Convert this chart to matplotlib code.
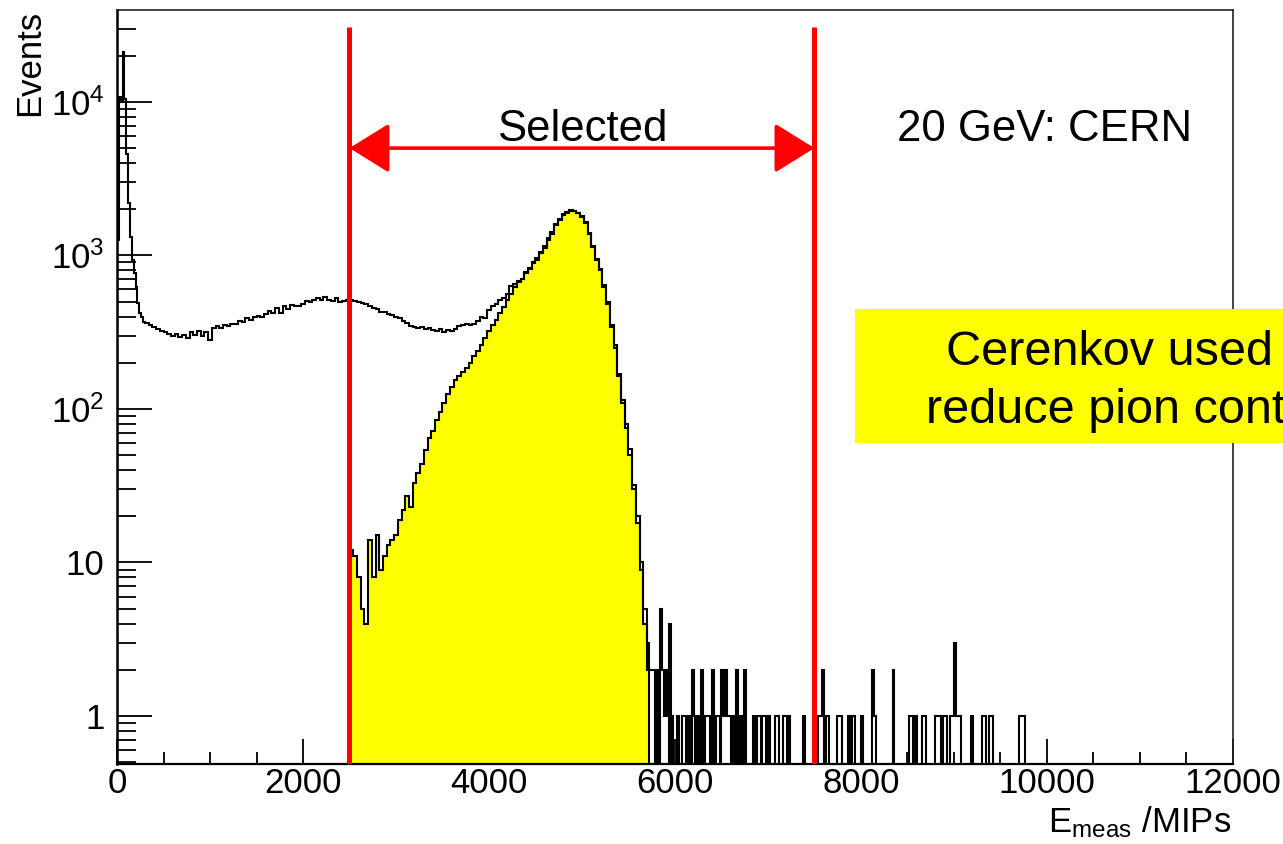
import numpy as np
import matplotlib
matplotlib.use("Agg")
import matplotlib.pyplot as plt
from matplotlib.patches import FancyArrowPatch, Rectangle
from matplotlib.ticker import MultipleLocator, LogLocator, NullFormatter, FuncFormatter

plt.rcParams["font.family"] = ["Liberation Sans", "DejaVu Sans"]
plt.rcParams["mathtext.fontset"] = "custom"
plt.rcParams["mathtext.rm"] = "Liberation Sans"
plt.rcParams["mathtext.it"] = "Liberation Sans:italic"
plt.rcParams["mathtext.bf"] = "Liberation Sans:bold"

# ---- data ----
# pedestal / MIP peak, 20 MIP bins from 0
peak_start, peak_width = 0, 20
all_peak = [1260, 10700, 10000, 21000, 10400, 4600, 2200, 1320, 930, 770,
            620, 490, 420, 400, 370]

# main body, 40 MIP bins from 300 to 5700 (all events)
main_start, main_width = 300, 40
all_main = [
    365, 350, 340, 330, 320, 315, 310, 300, 310, 295,        # 300 - 660
    305, 290, 315, 305, 320, 300, 315, 280, 335, 345,        # 700 - 1060
    335, 350, 345, 360, 355, 375, 370, 390, 380, 395,        # 1100 - 1460
    405, 395, 415, 435, 420, 455, 420, 465, 450, 475,        # 1500 - 1860
    465, 470, 485, 505, 495, 515, 525, 510, 540, 515,        # 1900 - 2260
    505, 525, 500, 505, 510,                                 # 2300 - 2460
    515, 505, 500, 490, 480, 465, 455, 445, 430, 425,        # 2500 - 2860
    415, 410, 400, 390, 375, 365, 345, 340, 335, 340,        # 2900 - 3260
    330, 335, 325, 320, 330, 315, 325, 320, 330, 345,        # 3300 - 3660
    350, 355, 350, 360, 375, 395, 390, 440, 470, 480,        # 3700 - 4060
    510, 530, 560, 630, 650, 680, 700, 780, 830, 900,        # 4100 - 4460
    960, 1060, 1150, 1300, 1420, 1600, 1720, 1850, 1920, 1980,  # 4500 - 4860
    1960, 1900, 1800, 1650, 1400, 1150, 950, 820, 640, 500,  # 4900 - 5260
    350, 260, 170, 115, 80, 55, 32, 20, 10, 5,               # 5300 - 5660
]

# Cerenkov-selected events, 40 MIP bins from 2500 to 5700
sel_start = 2500
sel_main = [
    12, 11, 8, 5, 4, 14, 8, 15, 9, 11,                       # 2500 - 2860
    13, 14, 15, 19, 22, 27, 23, 33, 38, 44,                  # 2900 - 3260
    54, 65, 72, 85, 95, 110, 125, 140, 155, 165,             # 3300 - 3660
    175, 185, 200, 220, 240, 260, 290, 320, 350, 380,        # 3700 - 4060
    420, 460, 510, 560, 620, 670, 700, 770, 820, 890,        # 4100 - 4460
    940, 1040, 1120, 1260, 1380, 1580, 1700, 1830, 1900, 1960,  # 4500 - 4860
    1940, 1880, 1780, 1620, 1380, 1130, 930, 800, 620, 480,  # 4900 - 5260
    340, 250, 165, 110, 75, 50, 30, 18, 9, 4,                # 5300 - 5660
]

# sparse tail, 20 MIP bins from 5700 to 9800 (non-empty bins only)
tail_start, tail_end, tail_width = 5700, 9800, 20
all_tail_bins = [5700, 5720, 5740, 5760, 5780, 5800, 5840, 5860, 5880, 5900,
                 5920, 5940, 5960, 6020, 6080, 6100, 6140, 6180, 6200, 6240,
                 6280, 6320, 6340, 6360, 6400, 6440, 6460, 6500, 6520, 6540,
                 6560, 6580, 6620, 6660, 6700, 6740, 6840, 6880, 6900, 6940,
                 6960, 7000, 7080, 7100, 7160, 7180, 7220, 7380, 7540, 7560,
                 7580, 7620, 7640, 7740, 7760, 7780, 7860, 7900, 7920, 8000,
                 8120, 8140, 8340, 8520, 8540, 8580, 8660, 8680, 8800, 8820,
                 8840, 8880, 8900, 8960, 8980, 9000, 9020, 9040, 9060, 9180,
                 9300, 9320, 9380, 9400, 9700, 9720, 9740]
all_tail_counts = [3, 2, 2, 2, 1, 2, 5, 2, 1, 2,
                   1, 4, 1, 1, 1, 1, 1, 2, 1, 1,
                   2, 1, 1, 1, 2, 1, 1, 2, 1, 2,
                   1, 1, 1, 2, 1, 2, 1, 1, 1, 1,
                   1, 1, 1, 1, 1, 1, 1, 1, 1, 1,
                   2, 1, 1, 1, 1, 1, 1, 1, 1, 1,
                   2, 1, 2, 1, 1, 1, 1, 1, 1, 1,
                   1, 1, 1, 1, 1, 3, 1, 1, 1, 1,
                   1, 1, 1, 1, 1, 1, 1]
sel_tail_bins = [5700, 5780, 5940, 6280]
sel_tail_counts = [2, 1, 1, 1]

cut_low, cut_high = 2500, 7500
cut_line_top = 30800
arrow_level = 5000
beam_label = "20 GeV: CERN"

# ---- build histograms ----
n_tail = (tail_end - tail_start) // tail_width


def tail_hist(bins, counts):
    vals = np.zeros(n_tail)
    idx = (np.array(bins) - tail_start) // tail_width
    vals[idx] = counts
    return vals


edges_peak = peak_start + peak_width * np.arange(len(all_peak) + 1)
edges_main = main_start + main_width * np.arange(len(all_main) + 1)
edges_tail = tail_start + tail_width * np.arange(n_tail + 1)
edges = np.concatenate([edges_peak, edges_main[1:], edges_tail[1:]])

n_pre_sel = (sel_start - main_start) // main_width
all_vals = np.concatenate([all_peak, all_main, tail_hist(all_tail_bins, all_tail_counts)])
sel_vals = np.concatenate([np.zeros(len(all_peak) + n_pre_sel), sel_main,
                           tail_hist(sel_tail_bins, sel_tail_counts)])

floor = 1e-3   # empty bins drop below the axis, like ROOT
all_vals = np.where(all_vals > 0, all_vals, floor)
sel_vals = np.where(sel_vals > 0, sel_vals, floor)

# ---- figure ----
fig = plt.figure(figsize=(12.83, 8.44), dpi=100)
ax = fig.add_axes([0.0912, 0.0948, 0.8698, 0.8934])
ax.set_yscale("log")
ax.set_xlim(0, 12000)
ax.set_ylim(0.487, 39700)

ax.stairs(sel_vals, edges, fill=True, baseline=floor, color="#ffff00", zorder=2)
ax.stairs(all_vals, edges, baseline=floor, color="black", lw=1.5, zorder=3)
ax.stairs(sel_vals, edges, baseline=floor, color="black", lw=1.5, zorder=3)

# selection window
ax.vlines([cut_low, cut_high], 0.487, cut_line_top, color="#ff0000", lw=3.6, zorder=5)
arrow = FancyArrowPatch((cut_low, arrow_level), (cut_high, arrow_level),
                        arrowstyle="<|-|>,head_length=25,head_width=15.5",
                        mutation_scale=1, shrinkA=0, shrinkB=0,
                        color="#ff0000", lw=2.6, zorder=5)
ax.add_patch(arrow)
ax.text((cut_low + cut_high) / 2, 5570, "Selected", ha="center", va="baseline",
        fontsize=31.5, zorder=6)
ax.text(8390, 5570, beam_label, ha="left", va="baseline", fontsize=31.5, zorder=6)

# axes styling (ROOT look)
ax.xaxis.set_major_locator(MultipleLocator(2000))
ax.xaxis.set_minor_locator(MultipleLocator(500))
ax.yaxis.set_major_locator(LogLocator(base=10, numticks=12))
ax.yaxis.set_minor_locator(LogLocator(base=10, subs=np.arange(2, 10), numticks=100))
ax.yaxis.set_minor_formatter(NullFormatter())


def log_label(v, pos):
    if v < 1.5:
        return "1"
    if v < 15:
        return "10"
    return r"$\mathregular{10^{%d}}$" % round(np.log10(v))


ax.yaxis.set_major_formatter(FuncFormatter(log_label))
ax.tick_params(axis="x", which="major", direction="in", length=18, width=1.3,
               labelsize=25, pad=2)
ax.tick_params(axis="x", which="minor", direction="in", length=8.6, width=1.3)
ax.tick_params(axis="y", which="major", direction="in", length=25, width=1.3,
               labelsize=25, pad=9)
ax.tick_params(axis="y", which="minor", direction="in", length=13.7, width=1.3)
ax.spines["left"].set_linewidth(1.8)
ax.spines["bottom"].set_linewidth(1.6)
for side in ("top", "right"):
    ax.spines[side].set_linewidth(1.2)
    ax.spines[side].set_color("#222222")

fig.text(30 / 1283, 1 - 10 / 844, "Events", rotation=90, ha="center", va="top",
         fontsize=25)
fig.text(1231 / 1283, 1 - 832 / 844, r"E$_{\mathregular{meas}}$ /MIPs",
         ha="right", va="baseline", fontsize=25)

# Cerenkov note box, running off the right edge as in the original slide
fig.patches.append(Rectangle((855 / 1283, 1 - 443 / 844), 0.5, 134 / 844,
                             transform=fig.transFigure, facecolor="#ffff00",
                             edgecolor="none", zorder=10))
fig.text(1137 / 1283, 1 - 365 / 844, "Cerenkov used to", ha="center",
         va="baseline", fontsize=35, zorder=11)
fig.text(1139 / 1283, 1 - 423 / 844, "reduce pion content", ha="center",
         va="baseline", fontsize=35, zorder=11)

fig.savefig("out.png", dpi=100)
